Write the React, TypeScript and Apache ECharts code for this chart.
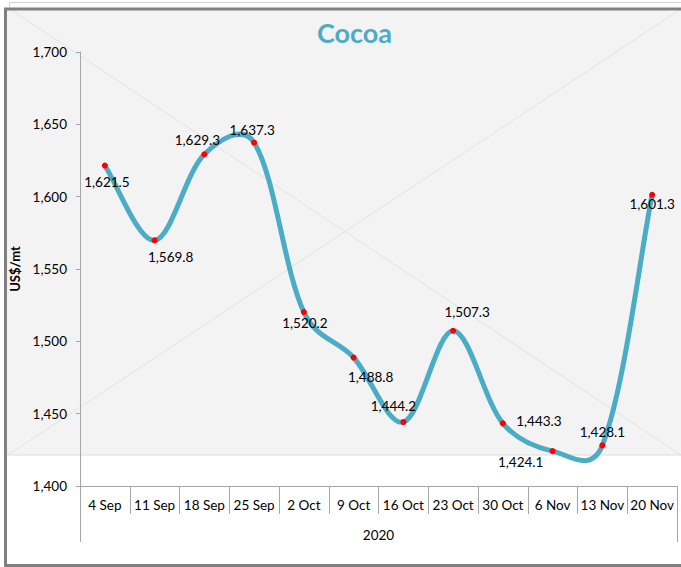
import React, { useEffect, useRef } from "react";
import * as echarts from "echarts";

const categories = ["4 Sep", "11 Sep", "18 Sep", "25 Sep", "2 Oct", "9 Oct", "16 Oct", "23 Oct", "30 Oct", "6 Nov", "13 Nov", "20 Nov"];
const prices = [1621.5, 1569.8, 1629.3, 1637.3, 1520.2, 1488.8, 1444.2, 1507.3, 1443.3, 1424.1, 1428.1, 1601.3];
const labelOffsets: [number, number][] = [
  [2, 16], [16, 17], [-7, -14], [-2, -13], [1, 11], [17, 19],
  [-10, -16], [14, -19], [36, -2], [-32, 11], [0, -13], [0, 9],
];
const yearLabel = "2020";
const titleText = "Cocoa";
const yAxisName = "US$/mt";
const yMin = 1400;
const yMax = 1700;
const yStep = 50;

const FONT = "Lato, 'Noto Sans', sans-serif";
const LINE_COLOR = "#4BACC6";
const FS = 13.5;

function fmt1(v: number): string {
  const [i, d] = v.toFixed(1).split(".");
  return i.replace(/\B(?=(\d{3})+(?!\d))/g, ",") + "." + d;
}

type P = [number, number];

// Excel-like smoothing: blend of uniform Catmull-Rom and length-weighted tangents
function controlOut(pts: P[], i: number): P {
  const p = pts[i];
  const prev = pts[Math.max(0, i - 1)];
  const next = pts[Math.min(pts.length - 1, i + 1)];
  const tx = next[0] - prev[0];
  const ty = next[1] - prev[1];
  const dPrev = Math.hypot(p[0] - prev[0], p[1] - prev[1]);
  const dNext = Math.hypot(next[0] - p[0], next[1] - p[1]);
  const sum = dPrev + dNext || 1;
  const f = (1 / 6 + (dNext / sum) / 3) / 2;
  return [p[0] + tx * f, p[1] + ty * f];
}
function controlIn(pts: P[], i: number): P {
  const p = pts[i];
  const prev = pts[Math.max(0, i - 1)];
  const next = pts[Math.min(pts.length - 1, i + 1)];
  const tx = next[0] - prev[0];
  const ty = next[1] - prev[1];
  const dPrev = Math.hypot(p[0] - prev[0], p[1] - prev[1]);
  const dNext = Math.hypot(next[0] - p[0], next[1] - p[1]);
  const sum = dPrev + dNext || 1;
  const f = (1 / 6 + (dPrev / sum) / 3) / 2;
  return [p[0] - tx * f, p[1] - ty * f];
}

export default function App() {
  const ref = useRef<HTMLDivElement>(null);
  useEffect(() => {
    if (!ref.current) return;
    const chart = echarts.init(ref.current, undefined, { renderer: "svg" });
    const W = 681;
    const gridLeft = 80;
    const gridRight = 677;
    const axisY = 486;
    chart.setOption({
      animation: false,
      backgroundColor: "#ffffff",
      textStyle: { fontFamily: FONT },
      title: {
        text: titleText,
        left: 312,
        top: 14,
        textStyle: { color: LINE_COLOR, fontSize: 27, fontWeight: "bold", fontFamily: FONT },
      },
      graphic: [
        { type: "rect", z: -10, silent: true, shape: { x: 7, y: 10.5, width: 680, height: 444.5 }, style: { fill: "#f3f3f3" } },
        { type: "line", z: -9, silent: true, shape: { x1: 7, y1: 455, x2: W, y2: 455 }, style: { stroke: "#dcdcdc", lineWidth: 1 } },
        { type: "line", z: -9, silent: true, shape: { x1: 10, y1: 9, x2: W, y2: 455 }, style: { stroke: "#e2e2e2", lineWidth: 1 } },
        { type: "line", z: -9, silent: true, shape: { x1: W, y1: 9, x2: 8, y2: 455 }, style: { stroke: "#e2e2e2", lineWidth: 1 } },
        { type: "line", z: -9, silent: true, shape: { x1: 9, y1: 2.5, x2: W, y2: 2.5 }, style: { stroke: "#d4d4d4", lineWidth: 1 } },
        { type: "line", z: -9, silent: true, shape: { x1: 9.5, y1: 2.5, x2: 9.5, y2: 8 }, style: { stroke: "#d4d4d4", lineWidth: 1 } },
        { type: "rect", z: -8, silent: true, shape: { x: 5.5, y: 9, width: 700, height: 556.5 }, style: { fill: "none", stroke: "#808080", lineWidth: 3 } },
        { type: "line", silent: true, shape: { x1: gridLeft + 0.5, y1: axisY, x2: gridLeft + 0.5, y2: 542 }, style: { stroke: "#a6a6a6", lineWidth: 1 } },
        { type: "line", silent: true, shape: { x1: gridRight + 0.5, y1: axisY, x2: gridRight + 0.5, y2: 542 }, style: { stroke: "#a6a6a6", lineWidth: 1 } },
        {
          type: "text",
          silent: true,
          x: (gridLeft + gridRight) / 2,
          y: 535,
          style: { text: yearLabel, fill: "#000", font: `${FS}px ${FONT}`, align: "center", verticalAlign: "middle" },
        },
      ],
      grid: { left: gridLeft, right: W - gridRight, top: 52, bottom: 567 - axisY, containLabel: false },
      xAxis: {
        type: "category",
        data: categories,
        boundaryGap: true,
        axisLine: { show: true, lineStyle: { color: "#a6a6a6", width: 1 } },
        axisTick: { show: true, interval: 0, alignWithLabel: false, length: 28, lineStyle: { color: "#a6a6a6" } },
        axisLabel: { interval: 0, color: "#000", fontSize: FS, margin: 12, fontFamily: FONT },
        splitLine: { show: false },
      },
      yAxis: {
        type: "value",
        min: yMin,
        max: yMax,
        interval: yStep,
        name: yAxisName,
        nameLocation: "middle",
        nameGap: 54,
        nameRotate: 90,
        nameTextStyle: { color: "#000", fontSize: 13, fontWeight: "bold", fontFamily: FONT },
        axisLine: { show: true, lineStyle: { color: "#a6a6a6", width: 1 } },
        axisTick: { show: true, length: 4, lineStyle: { color: "#a6a6a6" } },
        axisLabel: {
          color: "#000",
          fontSize: FS,
          margin: 13,
          fontFamily: FONT,
          formatter: (v: number) => v.toString().replace(/\B(?=(\d{3})+(?!\d))/g, ","),
        },
        splitLine: { show: false },
      },
      series: [
        {
          type: "custom",
          name: "curve",
          data: prices.map((v, i) => [i, v]),
          encode: { x: 0, y: 1 },
          clip: false,
          z: 2,
          renderItem: (params: any, api: any) => {
            const i = params.dataIndex;
            if (i >= prices.length - 1) return null;
            const pts: P[] = prices.map((v, k) => api.coord([k, v]) as P);
            const c1 = controlOut(pts, i);
            const c2 = controlIn(pts, i + 1);
            const a = pts[i];
            const b = pts[i + 1];
            const d = `M${a[0]},${a[1]} C${c1[0]},${c1[1]} ${c2[0]},${c2[1]} ${b[0]},${b[1]}`;
            return {
              type: "path",
              shape: { pathData: d },
              style: { fill: "none", stroke: LINE_COLOR, lineWidth: 5, lineCap: "round", lineJoin: "round" },
            };
          },
        },
        {
          type: "line",
          data: prices.map((v, i) => ({
            value: v,
            label: { offset: labelOffsets[i] },
          })),
          symbol: "circle",
          symbolSize: 6,
          showAllSymbol: true,
          lineStyle: { width: 0, opacity: 0 },
          itemStyle: { color: "#ff0000", borderWidth: 0 },
          label: {
            show: true,
            position: "inside",
            color: "#000",
            fontSize: FS,
            fontFamily: FONT,
            formatter: (p: any) => fmt1(p.value as number),
          },
          z: 3,
        },
      ],
    });
    return () => chart.dispose();
  }, []);
  return <div ref={ref} style={{ position: "absolute", left: 0, top: 0, width: 681, height: 567 }} />;
}
